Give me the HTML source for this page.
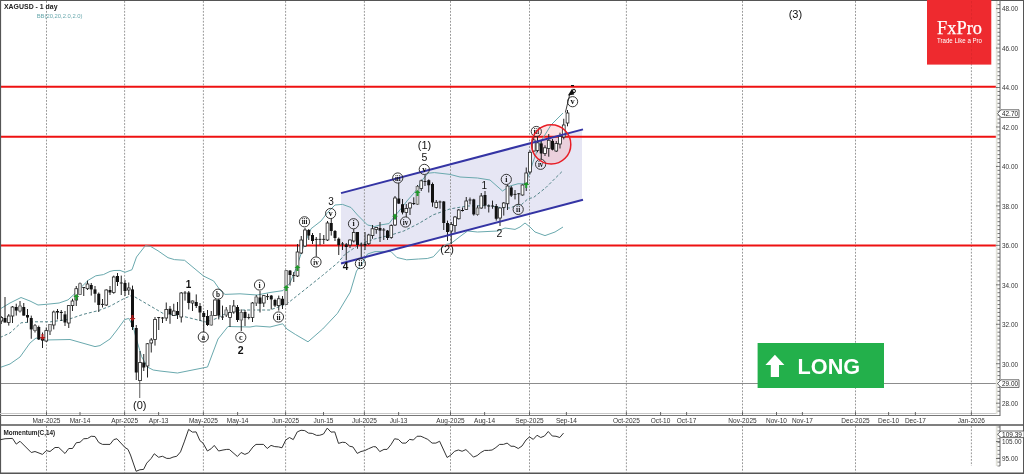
<!DOCTYPE html><html><head><meta charset="utf-8"><style>html,body{margin:0;padding:0;background:#fff;overflow:hidden}svg{display:block;will-change:transform}</style></head><body>
<svg width="1024" height="474" viewBox="0 0 1024 474">
<rect x="0" y="0" width="1024" height="474" fill="#fff"/>
<polygon points="341,193.14 582,129.66 582,200.01 341,263.49" fill="#e6e6f4"/>
<line x1="46.5" y1="1" x2="46.5" y2="413" stroke="#8c8c8c" stroke-width="0.9" stroke-dasharray="1.8,1.5"/>
<line x1="46.5" y1="426" x2="46.5" y2="472.5" stroke="#8c8c8c" stroke-width="0.9" stroke-dasharray="1.8,1.5"/>
<line x1="124.6" y1="1" x2="124.6" y2="413" stroke="#8c8c8c" stroke-width="0.9" stroke-dasharray="1.8,1.5"/>
<line x1="124.6" y1="426" x2="124.6" y2="472.5" stroke="#8c8c8c" stroke-width="0.9" stroke-dasharray="1.8,1.5"/>
<line x1="203.4" y1="1" x2="203.4" y2="413" stroke="#8c8c8c" stroke-width="0.9" stroke-dasharray="1.8,1.5"/>
<line x1="203.4" y1="426" x2="203.4" y2="472.5" stroke="#8c8c8c" stroke-width="0.9" stroke-dasharray="1.8,1.5"/>
<line x1="285.6" y1="1" x2="285.6" y2="413" stroke="#8c8c8c" stroke-width="0.9" stroke-dasharray="1.8,1.5"/>
<line x1="285.6" y1="426" x2="285.6" y2="472.5" stroke="#8c8c8c" stroke-width="0.9" stroke-dasharray="1.8,1.5"/>
<line x1="364.4" y1="1" x2="364.4" y2="413" stroke="#8c8c8c" stroke-width="0.9" stroke-dasharray="1.8,1.5"/>
<line x1="364.4" y1="426" x2="364.4" y2="472.5" stroke="#8c8c8c" stroke-width="0.9" stroke-dasharray="1.8,1.5"/>
<line x1="450.5" y1="1" x2="450.5" y2="413" stroke="#8c8c8c" stroke-width="0.9" stroke-dasharray="1.8,1.5"/>
<line x1="450.5" y1="426" x2="450.5" y2="472.5" stroke="#8c8c8c" stroke-width="0.9" stroke-dasharray="1.8,1.5"/>
<line x1="529.5" y1="1" x2="529.5" y2="413" stroke="#8c8c8c" stroke-width="0.9" stroke-dasharray="1.8,1.5"/>
<line x1="529.5" y1="426" x2="529.5" y2="472.5" stroke="#8c8c8c" stroke-width="0.9" stroke-dasharray="1.8,1.5"/>
<line x1="626.4" y1="1" x2="626.4" y2="413" stroke="#8c8c8c" stroke-width="0.9" stroke-dasharray="1.8,1.5"/>
<line x1="626.4" y1="426" x2="626.4" y2="472.5" stroke="#8c8c8c" stroke-width="0.9" stroke-dasharray="1.8,1.5"/>
<line x1="742.5" y1="1" x2="742.5" y2="413" stroke="#8c8c8c" stroke-width="0.9" stroke-dasharray="1.8,1.5"/>
<line x1="742.5" y1="426" x2="742.5" y2="472.5" stroke="#8c8c8c" stroke-width="0.9" stroke-dasharray="1.8,1.5"/>
<line x1="855.5" y1="1" x2="855.5" y2="413" stroke="#8c8c8c" stroke-width="0.9" stroke-dasharray="1.8,1.5"/>
<line x1="855.5" y1="426" x2="855.5" y2="472.5" stroke="#8c8c8c" stroke-width="0.9" stroke-dasharray="1.8,1.5"/>
<line x1="971.4" y1="1" x2="971.4" y2="413" stroke="#8c8c8c" stroke-width="0.9" stroke-dasharray="1.8,1.5"/>
<line x1="971.4" y1="426" x2="971.4" y2="466" stroke="#8c8c8c" stroke-width="0.9" stroke-dasharray="1.8,1.5"/>
<circle cx="551.2" cy="144.4" r="19.6" fill="rgba(250,160,165,0.3)"/>
<line x1="0" y1="86.8" x2="997" y2="86.8" stroke="#ee1111" stroke-width="2"/>
<line x1="0" y1="136.7" x2="997" y2="136.7" stroke="#ee1111" stroke-width="2"/>
<line x1="0" y1="245.6" x2="997" y2="245.6" stroke="#ee1111" stroke-width="2"/>
<line x1="0" y1="383.5" x2="997" y2="383.5" stroke="#8c8c8c" stroke-width="1"/>
<polyline points="0,309 10,303 21,297.5 30,301 38,305 46.5,304.3 59.1,303 68,299.9 74.3,294.2 80.6,287.8 88.2,280.3 95.8,275.8 103.4,274.6 110,271.4 114,270.5 120,270.4 125,272.3 132,269.7 136.5,257 145.3,245.7 150.4,246.3 158,250.8 168,257.7 174.4,259.6 184.6,260.3 203.5,276 213.7,281 220,290 225,294.4 240,293.8 257,295 270,292.5 283,290.6 290,283 297,266 304,245 311,228.75 321,221 327.5,212.5 335,205 342.5,204.4 351,207.5 357.5,215 367.5,225 372.5,226 374.3,226.6 380,225 389,223.6 393.5,217.7 400.8,208.9 407.8,200 414.2,192.8 418,187.8 423,179 428,173.2 434.4,172.6 450,174.4 460,177 477.5,178 490,180 502.5,191 510,186 518,183.75 525,183.75 530,172 533,162 540,143 551,125 563,113" fill="none" stroke="#6aa9ae" stroke-width="1"/>
<polyline points="0,367.5 10,364 20,357 30,343 36,338 45,340 70,339.5 95,346.6 100,345.6 110,339 117,330 124.5,319.7 128.7,318.4 133,326 135.8,337 141.6,356.6 147.4,367 153.2,370 160,371 177.5,373 205,367.5 207.5,367 218,339 228,326.5 250,327 256,326 270,327 282.7,323.8 286.9,329 295.3,334.4 308,341.8 322.7,329 337.5,313.3 350.2,292.2 356.5,271 362.8,262.7 367.5,254 375,251.6 391,251.6 396.9,257.5 406.7,259.8 418.6,259 427.25,258.5 433.3,256.8 440.7,248.7 446.6,244.3 450.9,243.6 460,236.5 467.5,231 477.5,232 497.5,231 505,228 515,229.4 520,227 525,223 530,227 535,232 545,235.6 555,232 563,227" fill="none" stroke="#6aa9ae" stroke-width="1"/>
<polyline points="0,337.5 10,333 21,322.8 33.75,321.8 50.6,321.8 68,319.5 83.2,314.4 98.4,310.6 110,306.2 123.9,298.6 132,295.3 147,304 163.2,313.5 183.1,316.3 205.9,322 215,319 225,314 240,310 270,310 286.9,303.8 301.6,292.2 322.7,275.3 337.5,263 344.8,254.5 359.5,244.3 374.3,239 392,234.7 403.8,231 418.6,223.6 433.3,214.8 450,208.9 467.5,206 487.5,205.6 500,207.5 510,208 517.5,205 521,205 528,198.75 533.5,197.5 546,187.5 556,177.5 563,170.6" fill="none" stroke="#55858a" stroke-width="1" stroke-dasharray="3,2"/>
<line x1="1.25" y1="316.0" x2="1.25" y2="324.0" stroke="#222" stroke-width="1"/>
<rect x="-0.1499999999999999" y="317.5" width="2.8" height="3.5" fill="#fff" stroke="#222" stroke-width="0.8"/>
<line x1="5.0" y1="297.0" x2="5.0" y2="322.5" stroke="#222" stroke-width="1"/>
<rect x="3.5" y="318.0" width="3" height="4.5" fill="#111"/>
<line x1="8.75" y1="314.0" x2="8.75" y2="325.6" stroke="#222" stroke-width="1"/>
<rect x="7.35" y="316.0" width="2.8" height="6.5" fill="#fff" stroke="#222" stroke-width="0.8"/>
<line x1="12.5" y1="306.0" x2="12.5" y2="323.0" stroke="#222" stroke-width="1"/>
<rect x="11.1" y="307.0" width="2.8" height="9.0" fill="#fff" stroke="#222" stroke-width="0.8"/>
<line x1="16.25" y1="303.7" x2="16.25" y2="315.6" stroke="#222" stroke-width="1"/>
<rect x="14.75" y="307.0" width="3" height="3.6000000000000227" fill="#111"/>
<line x1="20.0" y1="301.0" x2="20.0" y2="312.5" stroke="#222" stroke-width="1"/>
<rect x="18.6" y="306.0" width="2.8" height="5.0" fill="#cfcfcf" stroke="#666" stroke-width="0.8"/>
<line x1="23.75" y1="303.0" x2="23.75" y2="315.6" stroke="#222" stroke-width="1"/>
<rect x="22.25" y="307.0" width="3" height="8.600000000000023" fill="#111"/>
<line x1="27.5" y1="309.0" x2="27.5" y2="322.5" stroke="#222" stroke-width="1"/>
<rect x="26.0" y="315.0" width="3" height="2.5" fill="#111"/>
<line x1="31.25" y1="315.6" x2="31.25" y2="338.75" stroke="#222" stroke-width="1"/>
<rect x="29.75" y="318.0" width="3" height="11.399999999999977" fill="#111"/>
<line x1="35.0" y1="324.0" x2="35.0" y2="332.5" stroke="#222" stroke-width="1"/>
<rect x="33.6" y="325.6" width="2.8" height="5.0" fill="#cfcfcf" stroke="#666" stroke-width="0.8"/>
<line x1="38.75" y1="325.6" x2="38.75" y2="340.0" stroke="#222" stroke-width="1"/>
<rect x="37.25" y="327.0" width="3" height="12.399999999999977" fill="#111"/>
<line x1="42.5" y1="332.5" x2="42.5" y2="348.0" stroke="#222" stroke-width="1"/>
<rect x="41.0" y="338.75" width="3" height="1.8500000000000227" fill="#111"/>
<line x1="46.25" y1="327.5" x2="46.25" y2="341.9" stroke="#222" stroke-width="1"/>
<rect x="44.85" y="330.6" width="2.8" height="10.399999999999977" fill="#fff" stroke="#222" stroke-width="0.8"/>
<line x1="50.0" y1="324.0" x2="50.0" y2="335.0" stroke="#222" stroke-width="1"/>
<rect x="48.6" y="324.4" width="2.8" height="6.600000000000023" fill="#cfcfcf" stroke="#666" stroke-width="0.8"/>
<line x1="53.75" y1="310.6" x2="53.75" y2="329.4" stroke="#222" stroke-width="1"/>
<rect x="52.35" y="312.0" width="2.8" height="13.0" fill="#fff" stroke="#222" stroke-width="0.8"/>
<line x1="57.5" y1="309.0" x2="57.5" y2="319.4" stroke="#222" stroke-width="1"/>
<rect x="56.0" y="311.0" width="3" height="1.5" fill="#111"/>
<line x1="61.25" y1="310.0" x2="61.25" y2="321.0" stroke="#222" stroke-width="1"/>
<rect x="59.75" y="311.9" width="3" height="1.1000000000000227" fill="#111"/>
<line x1="65.0" y1="311.0" x2="65.0" y2="326.0" stroke="#222" stroke-width="1"/>
<rect x="63.5" y="314.4" width="3" height="8.100000000000023" fill="#111"/>
<line x1="68.75" y1="305.0" x2="68.75" y2="328.0" stroke="#222" stroke-width="1"/>
<rect x="67.35" y="305.6" width="2.8" height="17.399999999999977" fill="#fff" stroke="#222" stroke-width="0.8"/>
<line x1="72.5" y1="298.7" x2="72.5" y2="311.0" stroke="#222" stroke-width="1"/>
<rect x="71.1" y="301.0" width="2.8" height="4.600000000000023" fill="#fff" stroke="#222" stroke-width="0.8"/>
<line x1="76.25" y1="286.0" x2="76.25" y2="306.0" stroke="#222" stroke-width="1"/>
<rect x="74.85" y="288.7" width="2.8" height="11.300000000000011" fill="#fff" stroke="#222" stroke-width="0.8"/>
<line x1="80.0" y1="282.5" x2="80.0" y2="295.0" stroke="#222" stroke-width="1"/>
<rect x="78.6" y="283.7" width="2.8" height="10.699999999999989" fill="#cfcfcf" stroke="#666" stroke-width="0.8"/>
<line x1="83.75" y1="287.0" x2="83.75" y2="296.0" stroke="#222" stroke-width="1"/>
<line x1="82.25" y1="287.5" x2="85.25" y2="287.5" stroke="#222" stroke-width="1"/>
<line x1="87.5" y1="280.6" x2="87.5" y2="290.0" stroke="#222" stroke-width="1"/>
<rect x="86.1" y="284.0" width="2.8" height="4.699999999999989" fill="#fff" stroke="#222" stroke-width="0.8"/>
<line x1="91.25" y1="283.0" x2="91.25" y2="295.6" stroke="#222" stroke-width="1"/>
<rect x="89.75" y="285.0" width="3" height="4.399999999999977" fill="#111"/>
<line x1="95.0" y1="286.0" x2="95.0" y2="302.5" stroke="#222" stroke-width="1"/>
<rect x="93.5" y="289.4" width="3" height="4.350000000000023" fill="#111"/>
<line x1="98.75" y1="292.5" x2="98.75" y2="312.0" stroke="#222" stroke-width="1"/>
<rect x="97.25" y="293.75" width="3" height="11.25" fill="#111"/>
<line x1="102.5" y1="299.0" x2="102.5" y2="307.5" stroke="#222" stroke-width="1"/>
<line x1="101.0" y1="304.4" x2="104.0" y2="304.4" stroke="#222" stroke-width="1"/>
<line x1="106.25" y1="289.4" x2="106.25" y2="306.0" stroke="#222" stroke-width="1"/>
<rect x="104.85" y="290.0" width="2.8" height="15.0" fill="#fff" stroke="#222" stroke-width="0.8"/>
<line x1="110.0" y1="286.0" x2="110.0" y2="295.0" stroke="#222" stroke-width="1"/>
<rect x="108.5" y="290.0" width="3" height="2.5" fill="#111"/>
<line x1="113.75" y1="275.6" x2="113.75" y2="293.75" stroke="#222" stroke-width="1"/>
<rect x="112.35" y="277.0" width="2.8" height="15.5" fill="#fff" stroke="#222" stroke-width="0.8"/>
<line x1="117.5" y1="273.0" x2="117.5" y2="286.0" stroke="#222" stroke-width="1"/>
<rect x="116.0" y="276.0" width="3" height="6.0" fill="#111"/>
<line x1="121.25" y1="275.6" x2="121.25" y2="295.0" stroke="#222" stroke-width="1"/>
<line x1="119.75" y1="283.0" x2="122.75" y2="283.0" stroke="#222" stroke-width="1"/>
<line x1="125.0" y1="280.0" x2="125.0" y2="296.0" stroke="#222" stroke-width="1"/>
<rect x="123.5" y="283.0" width="3" height="8.0" fill="#111"/>
<line x1="128.75" y1="282.5" x2="128.75" y2="295.0" stroke="#222" stroke-width="1"/>
<rect x="127.35" y="288.0" width="2.8" height="2.0" fill="#fff" stroke="#222" stroke-width="0.8"/>
<line x1="132.5" y1="285.6" x2="132.5" y2="330.0" stroke="#222" stroke-width="1"/>
<rect x="131.0" y="289.4" width="3" height="37.60000000000002" fill="#111"/>
<line x1="136.25" y1="325.0" x2="136.25" y2="380.0" stroke="#222" stroke-width="1"/>
<rect x="134.75" y="328.0" width="3" height="44.5" fill="#111"/>
<line x1="140.0" y1="351.0" x2="140.0" y2="380.6" stroke="#222" stroke-width="1"/>
<rect x="138.6" y="362.5" width="2.8" height="18.100000000000023" fill="#fff" stroke="#222" stroke-width="0.8"/>
<line x1="143.75" y1="354.0" x2="143.75" y2="371.0" stroke="#222" stroke-width="1"/>
<rect x="142.25" y="362.5" width="3" height="5.0" fill="#111"/>
<line x1="147.5" y1="343.0" x2="147.5" y2="377.5" stroke="#222" stroke-width="1"/>
<rect x="146.1" y="343.75" width="2.8" height="22.25" fill="#fff" stroke="#222" stroke-width="0.8"/>
<line x1="151.25" y1="338.0" x2="151.25" y2="352.5" stroke="#222" stroke-width="1"/>
<rect x="149.85" y="340.0" width="2.8" height="3.0" fill="#fff" stroke="#222" stroke-width="0.8"/>
<line x1="155.0" y1="317.0" x2="155.0" y2="345.6" stroke="#222" stroke-width="1"/>
<rect x="153.6" y="319.4" width="2.8" height="20.0" fill="#fff" stroke="#222" stroke-width="0.8"/>
<line x1="158.75" y1="317.0" x2="158.75" y2="330.0" stroke="#222" stroke-width="1"/>
<line x1="157.25" y1="317.5" x2="160.25" y2="317.5" stroke="#222" stroke-width="1"/>
<line x1="162.5" y1="317.0" x2="162.5" y2="323.0" stroke="#222" stroke-width="1"/>
<line x1="161.0" y1="318.0" x2="164.0" y2="318.0" stroke="#222" stroke-width="1"/>
<line x1="166.25" y1="302.5" x2="166.25" y2="321.0" stroke="#222" stroke-width="1"/>
<rect x="164.85" y="309.4" width="2.8" height="8.600000000000023" fill="#fff" stroke="#222" stroke-width="0.8"/>
<line x1="170.0" y1="306.0" x2="170.0" y2="323.75" stroke="#222" stroke-width="1"/>
<rect x="168.5" y="308.75" width="3" height="5.649999999999977" fill="#111"/>
<line x1="173.75" y1="303.75" x2="173.75" y2="316.0" stroke="#222" stroke-width="1"/>
<rect x="172.35" y="311.0" width="2.8" height="4.600000000000023" fill="#fff" stroke="#222" stroke-width="0.8"/>
<line x1="177.5" y1="302.0" x2="177.5" y2="319.0" stroke="#222" stroke-width="1"/>
<rect x="176.0" y="311.0" width="3" height="4.0" fill="#111"/>
<line x1="181.25" y1="292.0" x2="181.25" y2="322.5" stroke="#222" stroke-width="1"/>
<rect x="179.85" y="293.0" width="2.8" height="24.0" fill="#fff" stroke="#222" stroke-width="0.8"/>
<line x1="185.0" y1="291.0" x2="185.0" y2="300.6" stroke="#222" stroke-width="1"/>
<line x1="183.5" y1="293.0" x2="186.5" y2="293.0" stroke="#222" stroke-width="1"/>
<line x1="188.75" y1="291.0" x2="188.75" y2="309.4" stroke="#222" stroke-width="1"/>
<rect x="187.25" y="292.5" width="3" height="10.5" fill="#111"/>
<line x1="192.5" y1="300.6" x2="192.5" y2="311.0" stroke="#222" stroke-width="1"/>
<rect x="191.1" y="301.0" width="2.8" height="2.0" fill="#fff" stroke="#222" stroke-width="0.8"/>
<line x1="196.25" y1="294.4" x2="196.25" y2="308.0" stroke="#222" stroke-width="1"/>
<rect x="194.75" y="302.0" width="3" height="4.0" fill="#111"/>
<line x1="200.0" y1="303.0" x2="200.0" y2="321.0" stroke="#222" stroke-width="1"/>
<rect x="198.5" y="306.0" width="3" height="6.5" fill="#111"/>
<line x1="203.75" y1="311.0" x2="203.75" y2="332.0" stroke="#222" stroke-width="1"/>
<rect x="202.25" y="313.0" width="3" height="4.0" fill="#111"/>
<line x1="207.5" y1="310.0" x2="207.5" y2="326.0" stroke="#222" stroke-width="1"/>
<rect x="206.0" y="316.0" width="3" height="9.0" fill="#111"/>
<line x1="211.25" y1="311.0" x2="211.25" y2="325.6" stroke="#222" stroke-width="1"/>
<rect x="209.85" y="315.6" width="2.8" height="9.399999999999977" fill="#cfcfcf" stroke="#666" stroke-width="0.8"/>
<line x1="215.0" y1="299.4" x2="215.0" y2="316.0" stroke="#222" stroke-width="1"/>
<rect x="213.6" y="300.0" width="2.8" height="15.600000000000023" fill="#fff" stroke="#222" stroke-width="0.8"/>
<line x1="218.75" y1="298.75" x2="218.75" y2="319.4" stroke="#222" stroke-width="1"/>
<rect x="217.25" y="300.0" width="3" height="15.600000000000023" fill="#111"/>
<line x1="222.5" y1="305.6" x2="222.5" y2="320.0" stroke="#222" stroke-width="1"/>
<line x1="221.0" y1="317.0" x2="224.0" y2="317.0" stroke="#222" stroke-width="1"/>
<line x1="226.25" y1="307.0" x2="226.25" y2="317.0" stroke="#222" stroke-width="1"/>
<rect x="224.85" y="310.0" width="2.8" height="5.0" fill="#cfcfcf" stroke="#666" stroke-width="0.8"/>
<line x1="230.0" y1="305.0" x2="230.0" y2="327.0" stroke="#222" stroke-width="1"/>
<rect x="228.6" y="312.5" width="2.8" height="5.0" fill="#fff" stroke="#222" stroke-width="0.8"/>
<line x1="233.75" y1="300.0" x2="233.75" y2="313.75" stroke="#222" stroke-width="1"/>
<rect x="232.35" y="306.0" width="2.8" height="6.0" fill="#fff" stroke="#222" stroke-width="0.8"/>
<line x1="237.5" y1="305.0" x2="237.5" y2="322.0" stroke="#222" stroke-width="1"/>
<rect x="236.0" y="307.0" width="3" height="13.0" fill="#111"/>
<line x1="241.25" y1="309.4" x2="241.25" y2="331.0" stroke="#222" stroke-width="1"/>
<rect x="239.85" y="312.5" width="2.8" height="7.5" fill="#cfcfcf" stroke="#666" stroke-width="0.8"/>
<line x1="245.0" y1="310.0" x2="245.0" y2="326.0" stroke="#222" stroke-width="1"/>
<rect x="243.5" y="312.0" width="3" height="6.0" fill="#111"/>
<line x1="248.75" y1="313.75" x2="248.75" y2="319.4" stroke="#222" stroke-width="1"/>
<line x1="247.25" y1="317.5" x2="250.25" y2="317.5" stroke="#222" stroke-width="1"/>
<line x1="252.5" y1="302.0" x2="252.5" y2="322.0" stroke="#222" stroke-width="1"/>
<rect x="251.1" y="303.0" width="2.8" height="14.5" fill="#fff" stroke="#222" stroke-width="0.8"/>
<line x1="256.25" y1="295.0" x2="256.25" y2="306.0" stroke="#222" stroke-width="1"/>
<rect x="254.85" y="297.0" width="2.8" height="6.0" fill="#cfcfcf" stroke="#666" stroke-width="0.8"/>
<line x1="260.0" y1="291.0" x2="260.0" y2="312.5" stroke="#222" stroke-width="1"/>
<rect x="258.5" y="297.5" width="3" height="6.25" fill="#111"/>
<line x1="263.75" y1="295.0" x2="263.75" y2="307.0" stroke="#222" stroke-width="1"/>
<rect x="262.35" y="295.6" width="2.8" height="7.399999999999977" fill="#fff" stroke="#222" stroke-width="0.8"/>
<line x1="267.5" y1="293.75" x2="267.5" y2="300.0" stroke="#222" stroke-width="1"/>
<line x1="266.0" y1="296.6" x2="269.0" y2="296.6" stroke="#222" stroke-width="1"/>
<line x1="271.25" y1="295.0" x2="271.25" y2="309.4" stroke="#222" stroke-width="1"/>
<rect x="269.75" y="295.6" width="3" height="3.7999999999999545" fill="#111"/>
<line x1="275.0" y1="298.75" x2="275.0" y2="307.0" stroke="#222" stroke-width="1"/>
<rect x="273.5" y="300.0" width="3" height="5.600000000000023" fill="#111"/>
<line x1="278.75" y1="295.6" x2="278.75" y2="310.6" stroke="#222" stroke-width="1"/>
<rect x="277.35" y="298.75" width="2.8" height="6.850000000000023" fill="#fff" stroke="#222" stroke-width="0.8"/>
<line x1="282.5" y1="296.0" x2="282.5" y2="309.0" stroke="#222" stroke-width="1"/>
<rect x="281.0" y="298.75" width="3" height="6.25" fill="#111"/>
<line x1="286.25" y1="270.0" x2="286.25" y2="305.0" stroke="#222" stroke-width="1"/>
<rect x="284.85" y="270.6" width="2.8" height="33.799999999999955" fill="#cfcfcf" stroke="#666" stroke-width="0.8"/>
<line x1="290.0" y1="270.0" x2="290.0" y2="285.6" stroke="#222" stroke-width="1"/>
<rect x="288.5" y="270.6" width="3" height="4.399999999999977" fill="#111"/>
<line x1="293.75" y1="272.0" x2="293.75" y2="282.0" stroke="#222" stroke-width="1"/>
<line x1="292.25" y1="275.4" x2="295.25" y2="275.4" stroke="#222" stroke-width="1"/>
<line x1="297.5" y1="244.0" x2="297.5" y2="277.0" stroke="#222" stroke-width="1"/>
<rect x="296.1" y="252.0" width="2.8" height="24.0" fill="#fff" stroke="#222" stroke-width="0.8"/>
<line x1="301.25" y1="236.0" x2="301.25" y2="254.0" stroke="#222" stroke-width="1"/>
<rect x="299.85" y="240.0" width="2.8" height="13.0" fill="#fff" stroke="#222" stroke-width="0.8"/>
<line x1="305.0" y1="228.0" x2="305.0" y2="247.0" stroke="#222" stroke-width="1"/>
<rect x="303.6" y="230.0" width="2.8" height="16.0" fill="#fff" stroke="#222" stroke-width="0.8"/>
<line x1="308.75" y1="229.0" x2="308.75" y2="240.0" stroke="#222" stroke-width="1"/>
<rect x="307.25" y="230.0" width="3" height="5.599999999999994" fill="#111"/>
<line x1="312.5" y1="233.0" x2="312.5" y2="244.0" stroke="#222" stroke-width="1"/>
<rect x="311.0" y="235.0" width="3" height="6.0" fill="#111"/>
<line x1="316.25" y1="237.0" x2="316.25" y2="256.6" stroke="#222" stroke-width="1"/>
<line x1="314.75" y1="239.4" x2="317.75" y2="239.4" stroke="#222" stroke-width="1"/>
<line x1="320.0" y1="233.0" x2="320.0" y2="245.0" stroke="#222" stroke-width="1"/>
<line x1="318.5" y1="239.4" x2="321.5" y2="239.4" stroke="#222" stroke-width="1"/>
<line x1="323.75" y1="235.0" x2="323.75" y2="244.0" stroke="#222" stroke-width="1"/>
<line x1="322.25" y1="239.4" x2="325.25" y2="239.4" stroke="#222" stroke-width="1"/>
<line x1="327.5" y1="221.0" x2="327.5" y2="241.0" stroke="#222" stroke-width="1"/>
<rect x="326.1" y="223.0" width="2.8" height="17.0" fill="#fff" stroke="#222" stroke-width="0.8"/>
<line x1="331.25" y1="218.5" x2="331.25" y2="235.6" stroke="#222" stroke-width="1"/>
<rect x="329.75" y="223.0" width="3" height="8.0" fill="#111"/>
<line x1="335.0" y1="230.0" x2="335.0" y2="241.0" stroke="#222" stroke-width="1"/>
<rect x="333.5" y="231.0" width="3" height="7.0" fill="#111"/>
<line x1="338.75" y1="237.5" x2="338.75" y2="255.0" stroke="#222" stroke-width="1"/>
<rect x="337.25" y="238.75" width="3" height="6.25" fill="#111"/>
<line x1="342.5" y1="242.0" x2="342.5" y2="250.0" stroke="#222" stroke-width="1"/>
<line x1="341.0" y1="244.0" x2="344.0" y2="244.0" stroke="#222" stroke-width="1"/>
<line x1="346.25" y1="243.0" x2="346.25" y2="260.4" stroke="#222" stroke-width="1"/>
<rect x="344.75" y="244.4" width="3" height="2.5999999999999943" fill="#111"/>
<line x1="350.0" y1="239.4" x2="350.0" y2="248.0" stroke="#222" stroke-width="1"/>
<rect x="348.6" y="240.0" width="2.8" height="5.0" fill="#fff" stroke="#222" stroke-width="0.8"/>
<line x1="353.75" y1="229.0" x2="353.75" y2="242.5" stroke="#222" stroke-width="1"/>
<rect x="352.35" y="232.5" width="2.8" height="8.5" fill="#fff" stroke="#222" stroke-width="0.8"/>
<line x1="357.5" y1="232.0" x2="357.5" y2="248.75" stroke="#222" stroke-width="1"/>
<rect x="356.0" y="232.0" width="3" height="13.0" fill="#111"/>
<line x1="361.25" y1="242.5" x2="361.25" y2="258.0" stroke="#222" stroke-width="1"/>
<line x1="359.75" y1="245.0" x2="362.75" y2="245.0" stroke="#222" stroke-width="1"/>
<line x1="365.0" y1="232.0" x2="365.0" y2="250.0" stroke="#222" stroke-width="1"/>
<rect x="363.5" y="243.75" width="3" height="1.8499999999999943" fill="#111"/>
<line x1="368.75" y1="233.75" x2="368.75" y2="245.0" stroke="#222" stroke-width="1"/>
<rect x="367.35" y="235.0" width="2.8" height="8.75" fill="#fff" stroke="#222" stroke-width="0.8"/>
<line x1="372.5" y1="225.0" x2="372.5" y2="238.75" stroke="#222" stroke-width="1"/>
<rect x="371.1" y="228.75" width="2.8" height="6.849999999999994" fill="#fff" stroke="#222" stroke-width="0.8"/>
<line x1="376.25" y1="227.0" x2="376.25" y2="233.75" stroke="#222" stroke-width="1"/>
<rect x="374.85" y="227.5" width="2.8" height="1.9000000000000057" fill="#fff" stroke="#222" stroke-width="0.8"/>
<line x1="380.0" y1="222.0" x2="380.0" y2="242.0" stroke="#222" stroke-width="1"/>
<rect x="378.5" y="228.0" width="3" height="2.5999999999999943" fill="#111"/>
<line x1="383.75" y1="228.0" x2="383.75" y2="240.0" stroke="#222" stroke-width="1"/>
<line x1="382.25" y1="230.0" x2="385.25" y2="230.0" stroke="#222" stroke-width="1"/>
<line x1="387.5" y1="230.0" x2="387.5" y2="240.0" stroke="#222" stroke-width="1"/>
<rect x="386.0" y="230.6" width="3" height="7.400000000000006" fill="#111"/>
<line x1="391.25" y1="224.4" x2="391.25" y2="238.75" stroke="#222" stroke-width="1"/>
<rect x="389.85" y="225.6" width="2.8" height="11.900000000000006" fill="#fff" stroke="#222" stroke-width="0.8"/>
<line x1="395.0" y1="196.0" x2="395.0" y2="226.0" stroke="#222" stroke-width="1"/>
<rect x="393.6" y="198.0" width="2.8" height="27.0" fill="#fff" stroke="#222" stroke-width="0.8"/>
<line x1="398.75" y1="183.0" x2="398.75" y2="204.0" stroke="#222" stroke-width="1"/>
<rect x="397.25" y="198.5" width="3" height="5.099999999999994" fill="#111"/>
<line x1="402.5" y1="199.0" x2="402.5" y2="214.4" stroke="#222" stroke-width="1"/>
<rect x="401.0" y="204.2" width="3" height="8.300000000000011" fill="#111"/>
<line x1="406.25" y1="204.0" x2="406.25" y2="217.0" stroke="#222" stroke-width="1"/>
<rect x="404.85" y="208.5" width="2.8" height="4.0" fill="#fff" stroke="#222" stroke-width="0.8"/>
<line x1="410.0" y1="202.3" x2="410.0" y2="215.0" stroke="#222" stroke-width="1"/>
<rect x="408.6" y="203.0" width="2.8" height="5.0" fill="#fff" stroke="#222" stroke-width="0.8"/>
<line x1="413.75" y1="197.3" x2="413.75" y2="205.0" stroke="#222" stroke-width="1"/>
<rect x="412.25" y="203.0" width="3" height="1.0" fill="#111"/>
<line x1="417.5" y1="185.0" x2="417.5" y2="205.0" stroke="#222" stroke-width="1"/>
<rect x="416.1" y="186.5" width="2.8" height="17.69999999999999" fill="#cfcfcf" stroke="#666" stroke-width="0.8"/>
<line x1="421.25" y1="179.6" x2="421.25" y2="191.0" stroke="#222" stroke-width="1"/>
<rect x="419.85" y="180.8" width="2.8" height="7.599999999999994" fill="#fff" stroke="#222" stroke-width="0.8"/>
<line x1="425.0" y1="174.7" x2="425.0" y2="186.0" stroke="#222" stroke-width="1"/>
<line x1="423.5" y1="181.5" x2="426.5" y2="181.5" stroke="#222" stroke-width="1"/>
<line x1="428.75" y1="179.4" x2="428.75" y2="192.5" stroke="#222" stroke-width="1"/>
<rect x="427.25" y="180.2" width="3" height="5.050000000000011" fill="#111"/>
<line x1="432.5" y1="182.5" x2="432.5" y2="206.8" stroke="#222" stroke-width="1"/>
<rect x="431.0" y="184.0" width="3" height="18.5" fill="#111"/>
<line x1="436.25" y1="200.0" x2="436.25" y2="208.5" stroke="#222" stroke-width="1"/>
<rect x="434.85" y="202.3" width="2.8" height="5.099999999999994" fill="#fff" stroke="#222" stroke-width="0.8"/>
<line x1="440.0" y1="200.6" x2="440.0" y2="208.75" stroke="#222" stroke-width="1"/>
<line x1="438.5" y1="202.0" x2="441.5" y2="202.0" stroke="#222" stroke-width="1"/>
<line x1="443.75" y1="201.0" x2="443.75" y2="230.0" stroke="#222" stroke-width="1"/>
<rect x="442.25" y="201.5" width="3" height="21.5" fill="#111"/>
<line x1="447.5" y1="220.6" x2="447.5" y2="241.0" stroke="#222" stroke-width="1"/>
<rect x="446.0" y="223.0" width="3" height="9.0" fill="#111"/>
<line x1="451.25" y1="222.0" x2="451.25" y2="244.0" stroke="#222" stroke-width="1"/>
<rect x="449.85" y="224.4" width="2.8" height="6.599999999999994" fill="#fff" stroke="#222" stroke-width="0.8"/>
<line x1="455.0" y1="216.0" x2="455.0" y2="232.5" stroke="#222" stroke-width="1"/>
<rect x="453.6" y="217.0" width="2.8" height="8.599999999999994" fill="#fff" stroke="#222" stroke-width="0.8"/>
<line x1="458.75" y1="209.0" x2="458.75" y2="219.5" stroke="#222" stroke-width="1"/>
<rect x="457.35" y="210.0" width="2.8" height="8.75" fill="#fff" stroke="#222" stroke-width="0.8"/>
<line x1="462.5" y1="207.5" x2="462.5" y2="211.5" stroke="#222" stroke-width="1"/>
<rect x="461.0" y="210.0" width="3" height="1.0" fill="#111"/>
<line x1="466.25" y1="197.0" x2="466.25" y2="210.0" stroke="#222" stroke-width="1"/>
<rect x="464.85" y="201.0" width="2.8" height="8.400000000000006" fill="#fff" stroke="#222" stroke-width="0.8"/>
<line x1="470.0" y1="197.5" x2="470.0" y2="204.4" stroke="#222" stroke-width="1"/>
<line x1="468.5" y1="200.0" x2="471.5" y2="200.0" stroke="#222" stroke-width="1"/>
<line x1="473.75" y1="198.75" x2="473.75" y2="215.6" stroke="#222" stroke-width="1"/>
<rect x="472.25" y="199.4" width="3" height="15.0" fill="#111"/>
<line x1="477.5" y1="205.6" x2="477.5" y2="215.6" stroke="#222" stroke-width="1"/>
<rect x="476.1" y="208.0" width="2.8" height="6.400000000000006" fill="#cfcfcf" stroke="#666" stroke-width="0.8"/>
<line x1="481.25" y1="193.0" x2="481.25" y2="208.75" stroke="#222" stroke-width="1"/>
<rect x="479.85" y="196.0" width="2.8" height="12.0" fill="#fff" stroke="#222" stroke-width="0.8"/>
<line x1="485.0" y1="191.0" x2="485.0" y2="208.75" stroke="#222" stroke-width="1"/>
<rect x="483.5" y="195.0" width="3" height="10.599999999999994" fill="#111"/>
<line x1="488.75" y1="204.4" x2="488.75" y2="212.5" stroke="#222" stroke-width="1"/>
<line x1="487.25" y1="206.0" x2="490.25" y2="206.0" stroke="#222" stroke-width="1"/>
<line x1="492.5" y1="200.6" x2="492.5" y2="208.75" stroke="#222" stroke-width="1"/>
<line x1="491.0" y1="206.0" x2="494.0" y2="206.0" stroke="#222" stroke-width="1"/>
<line x1="496.25" y1="204.0" x2="496.25" y2="220.6" stroke="#222" stroke-width="1"/>
<rect x="494.75" y="206.0" width="3" height="12.75" fill="#111"/>
<line x1="500.0" y1="207.5" x2="500.0" y2="226.0" stroke="#222" stroke-width="1"/>
<rect x="498.6" y="208.0" width="2.8" height="10.0" fill="#fff" stroke="#222" stroke-width="0.8"/>
<line x1="503.75" y1="202.0" x2="503.75" y2="215.6" stroke="#222" stroke-width="1"/>
<rect x="502.35" y="203.0" width="2.8" height="4.5" fill="#fff" stroke="#222" stroke-width="0.8"/>
<line x1="507.5" y1="184.7" x2="507.5" y2="210.0" stroke="#222" stroke-width="1"/>
<rect x="506.1" y="186.0" width="2.8" height="17.75" fill="#fff" stroke="#222" stroke-width="0.8"/>
<line x1="511.25" y1="186.0" x2="511.25" y2="197.0" stroke="#222" stroke-width="1"/>
<rect x="509.75" y="187.5" width="3" height="8.099999999999994" fill="#111"/>
<line x1="515.0" y1="190.0" x2="515.0" y2="199.4" stroke="#222" stroke-width="1"/>
<line x1="513.5" y1="194.4" x2="516.5" y2="194.4" stroke="#222" stroke-width="1"/>
<line x1="518.75" y1="193.0" x2="518.75" y2="204.0" stroke="#222" stroke-width="1"/>
<line x1="517.25" y1="193.75" x2="520.25" y2="193.75" stroke="#222" stroke-width="1"/>
<line x1="522.5" y1="184.4" x2="522.5" y2="195.6" stroke="#222" stroke-width="1"/>
<rect x="521.1" y="185.0" width="2.8" height="10.0" fill="#fff" stroke="#222" stroke-width="0.8"/>
<line x1="526.25" y1="167.5" x2="526.25" y2="191.0" stroke="#222" stroke-width="1"/>
<rect x="524.85" y="173.0" width="2.8" height="10.75" fill="#fff" stroke="#222" stroke-width="0.8"/>
<line x1="530.0" y1="150.4" x2="530.0" y2="174.4" stroke="#222" stroke-width="1"/>
<rect x="528.6" y="152.3" width="2.8" height="19.69999999999999" fill="#fff" stroke="#222" stroke-width="0.8"/>
<line x1="533.75" y1="135.0" x2="533.75" y2="152.0" stroke="#222" stroke-width="1"/>
<rect x="532.35" y="140.0" width="2.8" height="11.0" fill="#fff" stroke="#222" stroke-width="0.8"/>
<line x1="537.5" y1="137.0" x2="537.5" y2="152.3" stroke="#222" stroke-width="1"/>
<rect x="536.1" y="142.8" width="2.8" height="7.599999999999994" fill="#fff" stroke="#222" stroke-width="0.8"/>
<line x1="541.25" y1="141.0" x2="541.25" y2="159.0" stroke="#222" stroke-width="1"/>
<rect x="539.75" y="143.4" width="3" height="10.099999999999994" fill="#111"/>
<line x1="545.0" y1="145.3" x2="545.0" y2="156.0" stroke="#222" stroke-width="1"/>
<rect x="543.6" y="147.8" width="2.8" height="5.699999999999989" fill="#fff" stroke="#222" stroke-width="0.8"/>
<line x1="548.75" y1="134.0" x2="548.75" y2="156.7" stroke="#222" stroke-width="1"/>
<rect x="547.35" y="140.25" width="2.8" height="8.25" fill="#fff" stroke="#222" stroke-width="0.8"/>
<line x1="552.5" y1="139.0" x2="552.5" y2="150.4" stroke="#222" stroke-width="1"/>
<rect x="551.0" y="140.9" width="3" height="8.799999999999983" fill="#111"/>
<line x1="556.25" y1="141.0" x2="556.25" y2="152.0" stroke="#222" stroke-width="1"/>
<rect x="554.85" y="143.4" width="2.8" height="7.599999999999994" fill="#fff" stroke="#222" stroke-width="0.8"/>
<line x1="560.0" y1="132.7" x2="560.0" y2="148.5" stroke="#222" stroke-width="1"/>
<rect x="558.6" y="136.5" width="2.8" height="7.5" fill="#fff" stroke="#222" stroke-width="0.8"/>
<line x1="563.75" y1="118.75" x2="563.75" y2="139.4" stroke="#222" stroke-width="1"/>
<rect x="562.35" y="125.0" width="2.8" height="12.0" fill="#fff" stroke="#222" stroke-width="0.8"/>
<line x1="567.5" y1="110.0" x2="567.5" y2="126.3" stroke="#222" stroke-width="1"/>
<rect x="566.1" y="113.0" width="2.8" height="10.0" fill="#fff" stroke="#222" stroke-width="0.8"/>
<line x1="341" y1="193.14" x2="583" y2="129.40" stroke="#3434a4" stroke-width="2"/>
<line x1="341" y1="263.49" x2="583" y2="199.75" stroke="#3434a4" stroke-width="2"/>
<polygon points="76.25,294 79.25,297 77.25,297 77.25,300 75.25,300 75.25,297 73.25,297" fill="#1e9a2a"/>
<polygon points="286.25,285 289.25,288 287.25,288 287.25,291 285.25,291 285.25,288 283.25,288" fill="#1e9a2a"/>
<polygon points="297.5,265 300.5,268 298.5,268 298.5,271 296.5,271 296.5,268 294.5,268" fill="#1e9a2a"/>
<polygon points="395.0,213.5 398.0,216.5 396.0,216.5 396.0,219.5 394.0,219.5 394.0,216.5 392.0,216.5" fill="#1e9a2a"/>
<polygon points="417.5,190 420.5,193 418.5,193 418.5,196 416.5,196 416.5,193 414.5,193" fill="#1e9a2a"/>
<polygon points="526.25,182 529.25,185 527.25,185 527.25,188 525.25,188 525.25,185 523.25,185" fill="#1e9a2a"/>
<polygon points="42.5,340 45.5,337 43.5,337 43.5,334 41.5,334 41.5,337 39.5,337" fill="#b01818"/>
<polygon points="132.5,321 135.5,318 133.5,318 133.5,315 131.5,315 131.5,318 129.5,318" fill="#b01818"/>
<circle cx="203.3" cy="337" r="5.1" fill="none" stroke="#222" stroke-width="0.9"/>
<text x="201.50" y="339.60" font-family="Liberation Serif" font-weight="bold" font-size="8.5" textLength="3.6" lengthAdjust="spacingAndGlyphs" fill="#111">a</text>
<circle cx="218" cy="294.2" r="5.1" fill="none" stroke="#222" stroke-width="0.9"/>
<text x="216.00" y="296.80" font-family="Liberation Serif" font-weight="bold" font-size="8.5" textLength="4.0" lengthAdjust="spacingAndGlyphs" fill="#111">b</text>
<circle cx="240.8" cy="337.3" r="5.1" fill="none" stroke="#222" stroke-width="0.9"/>
<text x="239.00" y="339.90" font-family="Liberation Serif" font-weight="bold" font-size="8.5" textLength="3.6" lengthAdjust="spacingAndGlyphs" fill="#111">c</text>
<circle cx="259.5" cy="285" r="5.1" fill="none" stroke="#222" stroke-width="0.9"/>
<text x="258.40" y="287.60" font-family="Liberation Serif" font-weight="bold" font-size="8.5" textLength="2.2" lengthAdjust="spacingAndGlyphs" fill="#111">i</text>
<circle cx="278.5" cy="317" r="5.1" fill="none" stroke="#222" stroke-width="0.9"/>
<text x="276.40" y="319.60" font-family="Liberation Serif" font-weight="bold" font-size="8.5" textLength="4.2" lengthAdjust="spacingAndGlyphs" fill="#111">ii</text>
<circle cx="304.5" cy="221.8" r="5.1" fill="none" stroke="#222" stroke-width="0.9"/>
<text x="301.70" y="224.40" font-family="Liberation Serif" font-weight="bold" font-size="8.5" textLength="5.6" lengthAdjust="spacingAndGlyphs" fill="#111">iii</text>
<circle cx="316" cy="262" r="5.1" fill="none" stroke="#222" stroke-width="0.9"/>
<text x="313.30" y="264.60" font-family="Liberation Serif" font-weight="bold" font-size="8.5" textLength="5.4" lengthAdjust="spacingAndGlyphs" fill="#111">iv</text>
<circle cx="330.6" cy="213.5" r="5.1" fill="none" stroke="#222" stroke-width="0.9"/>
<text x="328.50" y="216.10" font-family="Liberation Serif" font-weight="bold" font-size="8.5" textLength="4.2" lengthAdjust="spacingAndGlyphs" fill="#111">v</text>
<circle cx="353.5" cy="223.75" r="5.1" fill="none" stroke="#222" stroke-width="0.9"/>
<text x="352.40" y="226.35" font-family="Liberation Serif" font-weight="bold" font-size="8.5" textLength="2.2" lengthAdjust="spacingAndGlyphs" fill="#111">i</text>
<circle cx="360.4" cy="263.6" r="5.1" fill="none" stroke="#222" stroke-width="0.9"/>
<text x="358.30" y="266.20" font-family="Liberation Serif" font-weight="bold" font-size="8.5" textLength="4.2" lengthAdjust="spacingAndGlyphs" fill="#111">ii</text>
<circle cx="397.75" cy="178" r="5.1" fill="none" stroke="#222" stroke-width="0.9"/>
<text x="394.95" y="180.60" font-family="Liberation Serif" font-weight="bold" font-size="8.5" textLength="5.6" lengthAdjust="spacingAndGlyphs" fill="#111">iii</text>
<circle cx="405.5" cy="222" r="5.1" fill="none" stroke="#222" stroke-width="0.9"/>
<text x="402.80" y="224.60" font-family="Liberation Serif" font-weight="bold" font-size="8.5" textLength="5.4" lengthAdjust="spacingAndGlyphs" fill="#111">iv</text>
<circle cx="424.3" cy="169.4" r="5.1" fill="none" stroke="#222" stroke-width="0.9"/>
<text x="422.20" y="172.00" font-family="Liberation Serif" font-weight="bold" font-size="8.5" textLength="4.2" lengthAdjust="spacingAndGlyphs" fill="#111">v</text>
<circle cx="506.3" cy="179.4" r="5.1" fill="none" stroke="#222" stroke-width="0.9"/>
<text x="505.20" y="182.00" font-family="Liberation Serif" font-weight="bold" font-size="8.5" textLength="2.2" lengthAdjust="spacingAndGlyphs" fill="#111">i</text>
<circle cx="518.2" cy="209.4" r="5.1" fill="none" stroke="#222" stroke-width="0.9"/>
<text x="516.10" y="212.00" font-family="Liberation Serif" font-weight="bold" font-size="8.5" textLength="4.2" lengthAdjust="spacingAndGlyphs" fill="#111">ii</text>
<circle cx="536.3" cy="131.5" r="5.1" fill="none" stroke="#222" stroke-width="0.9"/>
<text x="533.50" y="134.10" font-family="Liberation Serif" font-weight="bold" font-size="8.5" textLength="5.6" lengthAdjust="spacingAndGlyphs" fill="#111">iii</text>
<circle cx="540.6" cy="164.3" r="5.1" fill="none" stroke="#222" stroke-width="0.9"/>
<text x="537.90" y="166.90" font-family="Liberation Serif" font-weight="bold" font-size="8.5" textLength="5.4" lengthAdjust="spacingAndGlyphs" fill="#111">iv</text>
<circle cx="572.6" cy="101.7" r="5.1" fill="none" stroke="#222" stroke-width="0.9"/>
<text x="570.50" y="104.30" font-family="Liberation Serif" font-weight="bold" font-size="8.5" textLength="4.2" lengthAdjust="spacingAndGlyphs" fill="#111">v</text>
<line x1="569.8" y1="94" x2="565.4" y2="112.5" stroke="#222" stroke-width="0.9"/>
<line x1="139.75" y1="380.6" x2="139.75" y2="398" stroke="#333" stroke-width="0.8"/>
<circle cx="551.2" cy="144.4" r="19.6" fill="none" stroke="#e81c24" stroke-width="1.5"/>
<text x="188.5" y="287.60" font-family="Liberation Sans" font-weight="bold" font-size="10" text-anchor="middle" fill="#111">1</text>
<text x="240.6" y="353.78" font-family="Liberation Sans" font-weight="bold" font-size="10.5" text-anchor="middle" fill="#111">2</text>
<text x="331" y="204.90" font-family="Liberation Sans" font-weight="normal" font-size="10" text-anchor="middle" fill="#111">3</text>
<text x="345.6" y="270.20" font-family="Liberation Sans" font-weight="bold" font-size="10" text-anchor="middle" fill="#111">4</text>
<text x="424.5" y="161.28" font-family="Liberation Sans" font-weight="normal" font-size="10.5" text-anchor="middle" fill="#111">5</text>
<text x="424.5" y="148.56" font-family="Liberation Sans" font-weight="normal" font-size="11" text-anchor="middle" fill="#111">(1)</text>
<text x="447.1" y="252.56" font-family="Liberation Sans" font-weight="normal" font-size="11" text-anchor="middle" fill="#111">(2)</text>
<text x="484.4" y="189.20" font-family="Liberation Sans" font-weight="normal" font-size="10" text-anchor="middle" fill="#111">1</text>
<text x="499.4" y="236.78" font-family="Liberation Sans" font-weight="normal" font-size="10.5" text-anchor="middle" fill="#111">2</text>
<text x="139.75" y="408.96" font-family="Liberation Sans" font-weight="normal" font-size="11" text-anchor="middle" fill="#111">(0)</text>
<text x="795.4" y="17.96" font-family="Liberation Sans" font-weight="normal" font-size="11" text-anchor="middle" fill="#111">(3)</text>
<polygon points="567.8,95.6 572.2,88.6 574.2,94.6" fill="#111"/>
<ellipse cx="574" cy="91" rx="1.4" ry="1.8" fill="none" stroke="#111" stroke-width="1"/>
<line x1="571" y1="85.6" x2="574" y2="85.6" stroke="#111" stroke-width="1.2"/>
<line x1="0" y1="0.5" x2="1024" y2="0.5" stroke="#555" stroke-width="1.2"/>
<line x1="0.5" y1="0" x2="0.5" y2="474" stroke="#555" stroke-width="1.2"/>
<line x1="1023.5" y1="0" x2="1023.5" y2="474" stroke="#555" stroke-width="1"/>
<line x1="0" y1="413.5" x2="997" y2="413.5" stroke="#c8c8c8" stroke-width="1"/>
<line x1="0" y1="415.5" x2="1000" y2="415.5" stroke="#777" stroke-width="1.2"/>
<line x1="0" y1="425" x2="1024" y2="425" stroke="#555" stroke-width="1.5"/>
<line x1="0" y1="473.3" x2="1024" y2="473.3" stroke="#555" stroke-width="1.4"/>
<rect x="995.8" y="1" width="1.8" height="413" fill="#e2e2da"/>
<line x1="1000" y1="0" x2="1000" y2="416" stroke="#666" stroke-width="1"/>
<rect x="995.8" y="426" width="1.8" height="40" fill="#e2e2da"/>
<line x1="1000" y1="425" x2="1000" y2="466" stroke="#666" stroke-width="1"/>
<line x1="997.5" y1="4.65" x2="1000" y2="4.65" stroke="#555" stroke-width="0.8"/>
<line x1="996" y1="8.60" x2="1000" y2="8.60" stroke="#555" stroke-width="0.8"/>
<line x1="997.5" y1="12.55" x2="1000" y2="12.55" stroke="#555" stroke-width="0.8"/>
<line x1="997.5" y1="16.49" x2="1000" y2="16.49" stroke="#555" stroke-width="0.8"/>
<line x1="997.5" y1="20.44" x2="1000" y2="20.44" stroke="#555" stroke-width="0.8"/>
<line x1="997.5" y1="24.38" x2="1000" y2="24.38" stroke="#555" stroke-width="0.8"/>
<line x1="997.5" y1="28.33" x2="1000" y2="28.33" stroke="#555" stroke-width="0.8"/>
<line x1="997.5" y1="32.28" x2="1000" y2="32.28" stroke="#555" stroke-width="0.8"/>
<line x1="997.5" y1="36.22" x2="1000" y2="36.22" stroke="#555" stroke-width="0.8"/>
<line x1="997.5" y1="40.17" x2="1000" y2="40.17" stroke="#555" stroke-width="0.8"/>
<line x1="997.5" y1="44.11" x2="1000" y2="44.11" stroke="#555" stroke-width="0.8"/>
<line x1="996" y1="48.06" x2="1000" y2="48.06" stroke="#555" stroke-width="0.8"/>
<line x1="997.5" y1="52.01" x2="1000" y2="52.01" stroke="#555" stroke-width="0.8"/>
<line x1="997.5" y1="55.95" x2="1000" y2="55.95" stroke="#555" stroke-width="0.8"/>
<line x1="997.5" y1="59.90" x2="1000" y2="59.90" stroke="#555" stroke-width="0.8"/>
<line x1="997.5" y1="63.84" x2="1000" y2="63.84" stroke="#555" stroke-width="0.8"/>
<line x1="997.5" y1="67.79" x2="1000" y2="67.79" stroke="#555" stroke-width="0.8"/>
<line x1="997.5" y1="71.74" x2="1000" y2="71.74" stroke="#555" stroke-width="0.8"/>
<line x1="997.5" y1="75.68" x2="1000" y2="75.68" stroke="#555" stroke-width="0.8"/>
<line x1="997.5" y1="79.63" x2="1000" y2="79.63" stroke="#555" stroke-width="0.8"/>
<line x1="997.5" y1="83.57" x2="1000" y2="83.57" stroke="#555" stroke-width="0.8"/>
<line x1="996" y1="87.52" x2="1000" y2="87.52" stroke="#555" stroke-width="0.8"/>
<line x1="997.5" y1="91.47" x2="1000" y2="91.47" stroke="#555" stroke-width="0.8"/>
<line x1="997.5" y1="95.41" x2="1000" y2="95.41" stroke="#555" stroke-width="0.8"/>
<line x1="997.5" y1="99.36" x2="1000" y2="99.36" stroke="#555" stroke-width="0.8"/>
<line x1="997.5" y1="103.30" x2="1000" y2="103.30" stroke="#555" stroke-width="0.8"/>
<line x1="997.5" y1="107.25" x2="1000" y2="107.25" stroke="#555" stroke-width="0.8"/>
<line x1="997.5" y1="111.20" x2="1000" y2="111.20" stroke="#555" stroke-width="0.8"/>
<line x1="997.5" y1="115.14" x2="1000" y2="115.14" stroke="#555" stroke-width="0.8"/>
<line x1="997.5" y1="119.09" x2="1000" y2="119.09" stroke="#555" stroke-width="0.8"/>
<line x1="997.5" y1="123.03" x2="1000" y2="123.03" stroke="#555" stroke-width="0.8"/>
<line x1="996" y1="126.98" x2="1000" y2="126.98" stroke="#555" stroke-width="0.8"/>
<line x1="997.5" y1="130.93" x2="1000" y2="130.93" stroke="#555" stroke-width="0.8"/>
<line x1="997.5" y1="134.87" x2="1000" y2="134.87" stroke="#555" stroke-width="0.8"/>
<line x1="997.5" y1="138.82" x2="1000" y2="138.82" stroke="#555" stroke-width="0.8"/>
<line x1="997.5" y1="142.76" x2="1000" y2="142.76" stroke="#555" stroke-width="0.8"/>
<line x1="997.5" y1="146.71" x2="1000" y2="146.71" stroke="#555" stroke-width="0.8"/>
<line x1="997.5" y1="150.66" x2="1000" y2="150.66" stroke="#555" stroke-width="0.8"/>
<line x1="997.5" y1="154.60" x2="1000" y2="154.60" stroke="#555" stroke-width="0.8"/>
<line x1="997.5" y1="158.55" x2="1000" y2="158.55" stroke="#555" stroke-width="0.8"/>
<line x1="997.5" y1="162.49" x2="1000" y2="162.49" stroke="#555" stroke-width="0.8"/>
<line x1="996" y1="166.44" x2="1000" y2="166.44" stroke="#555" stroke-width="0.8"/>
<line x1="997.5" y1="170.39" x2="1000" y2="170.39" stroke="#555" stroke-width="0.8"/>
<line x1="997.5" y1="174.33" x2="1000" y2="174.33" stroke="#555" stroke-width="0.8"/>
<line x1="997.5" y1="178.28" x2="1000" y2="178.28" stroke="#555" stroke-width="0.8"/>
<line x1="997.5" y1="182.22" x2="1000" y2="182.22" stroke="#555" stroke-width="0.8"/>
<line x1="997.5" y1="186.17" x2="1000" y2="186.17" stroke="#555" stroke-width="0.8"/>
<line x1="997.5" y1="190.12" x2="1000" y2="190.12" stroke="#555" stroke-width="0.8"/>
<line x1="997.5" y1="194.06" x2="1000" y2="194.06" stroke="#555" stroke-width="0.8"/>
<line x1="997.5" y1="198.01" x2="1000" y2="198.01" stroke="#555" stroke-width="0.8"/>
<line x1="997.5" y1="201.95" x2="1000" y2="201.95" stroke="#555" stroke-width="0.8"/>
<line x1="996" y1="205.90" x2="1000" y2="205.90" stroke="#555" stroke-width="0.8"/>
<line x1="997.5" y1="209.85" x2="1000" y2="209.85" stroke="#555" stroke-width="0.8"/>
<line x1="997.5" y1="213.79" x2="1000" y2="213.79" stroke="#555" stroke-width="0.8"/>
<line x1="997.5" y1="217.74" x2="1000" y2="217.74" stroke="#555" stroke-width="0.8"/>
<line x1="997.5" y1="221.68" x2="1000" y2="221.68" stroke="#555" stroke-width="0.8"/>
<line x1="997.5" y1="225.63" x2="1000" y2="225.63" stroke="#555" stroke-width="0.8"/>
<line x1="997.5" y1="229.58" x2="1000" y2="229.58" stroke="#555" stroke-width="0.8"/>
<line x1="997.5" y1="233.52" x2="1000" y2="233.52" stroke="#555" stroke-width="0.8"/>
<line x1="997.5" y1="237.47" x2="1000" y2="237.47" stroke="#555" stroke-width="0.8"/>
<line x1="997.5" y1="241.41" x2="1000" y2="241.41" stroke="#555" stroke-width="0.8"/>
<line x1="996" y1="245.36" x2="1000" y2="245.36" stroke="#555" stroke-width="0.8"/>
<line x1="997.5" y1="249.31" x2="1000" y2="249.31" stroke="#555" stroke-width="0.8"/>
<line x1="997.5" y1="253.25" x2="1000" y2="253.25" stroke="#555" stroke-width="0.8"/>
<line x1="997.5" y1="257.20" x2="1000" y2="257.20" stroke="#555" stroke-width="0.8"/>
<line x1="997.5" y1="261.14" x2="1000" y2="261.14" stroke="#555" stroke-width="0.8"/>
<line x1="997.5" y1="265.09" x2="1000" y2="265.09" stroke="#555" stroke-width="0.8"/>
<line x1="997.5" y1="269.04" x2="1000" y2="269.04" stroke="#555" stroke-width="0.8"/>
<line x1="997.5" y1="272.98" x2="1000" y2="272.98" stroke="#555" stroke-width="0.8"/>
<line x1="997.5" y1="276.93" x2="1000" y2="276.93" stroke="#555" stroke-width="0.8"/>
<line x1="997.5" y1="280.87" x2="1000" y2="280.87" stroke="#555" stroke-width="0.8"/>
<line x1="996" y1="284.82" x2="1000" y2="284.82" stroke="#555" stroke-width="0.8"/>
<line x1="997.5" y1="288.77" x2="1000" y2="288.77" stroke="#555" stroke-width="0.8"/>
<line x1="997.5" y1="292.71" x2="1000" y2="292.71" stroke="#555" stroke-width="0.8"/>
<line x1="997.5" y1="296.66" x2="1000" y2="296.66" stroke="#555" stroke-width="0.8"/>
<line x1="997.5" y1="300.60" x2="1000" y2="300.60" stroke="#555" stroke-width="0.8"/>
<line x1="997.5" y1="304.55" x2="1000" y2="304.55" stroke="#555" stroke-width="0.8"/>
<line x1="997.5" y1="308.50" x2="1000" y2="308.50" stroke="#555" stroke-width="0.8"/>
<line x1="997.5" y1="312.44" x2="1000" y2="312.44" stroke="#555" stroke-width="0.8"/>
<line x1="997.5" y1="316.39" x2="1000" y2="316.39" stroke="#555" stroke-width="0.8"/>
<line x1="997.5" y1="320.33" x2="1000" y2="320.33" stroke="#555" stroke-width="0.8"/>
<line x1="996" y1="324.28" x2="1000" y2="324.28" stroke="#555" stroke-width="0.8"/>
<line x1="997.5" y1="328.23" x2="1000" y2="328.23" stroke="#555" stroke-width="0.8"/>
<line x1="997.5" y1="332.17" x2="1000" y2="332.17" stroke="#555" stroke-width="0.8"/>
<line x1="997.5" y1="336.12" x2="1000" y2="336.12" stroke="#555" stroke-width="0.8"/>
<line x1="997.5" y1="340.06" x2="1000" y2="340.06" stroke="#555" stroke-width="0.8"/>
<line x1="997.5" y1="344.01" x2="1000" y2="344.01" stroke="#555" stroke-width="0.8"/>
<line x1="997.5" y1="347.96" x2="1000" y2="347.96" stroke="#555" stroke-width="0.8"/>
<line x1="997.5" y1="351.90" x2="1000" y2="351.90" stroke="#555" stroke-width="0.8"/>
<line x1="997.5" y1="355.85" x2="1000" y2="355.85" stroke="#555" stroke-width="0.8"/>
<line x1="997.5" y1="359.79" x2="1000" y2="359.79" stroke="#555" stroke-width="0.8"/>
<line x1="996" y1="363.74" x2="1000" y2="363.74" stroke="#555" stroke-width="0.8"/>
<line x1="997.5" y1="367.69" x2="1000" y2="367.69" stroke="#555" stroke-width="0.8"/>
<line x1="997.5" y1="371.63" x2="1000" y2="371.63" stroke="#555" stroke-width="0.8"/>
<line x1="997.5" y1="375.58" x2="1000" y2="375.58" stroke="#555" stroke-width="0.8"/>
<line x1="997.5" y1="379.52" x2="1000" y2="379.52" stroke="#555" stroke-width="0.8"/>
<line x1="997.5" y1="383.47" x2="1000" y2="383.47" stroke="#555" stroke-width="0.8"/>
<line x1="997.5" y1="387.42" x2="1000" y2="387.42" stroke="#555" stroke-width="0.8"/>
<line x1="997.5" y1="391.36" x2="1000" y2="391.36" stroke="#555" stroke-width="0.8"/>
<line x1="997.5" y1="395.31" x2="1000" y2="395.31" stroke="#555" stroke-width="0.8"/>
<line x1="997.5" y1="399.25" x2="1000" y2="399.25" stroke="#555" stroke-width="0.8"/>
<line x1="996" y1="403.20" x2="1000" y2="403.20" stroke="#555" stroke-width="0.8"/>
<line x1="997.5" y1="407.15" x2="1000" y2="407.15" stroke="#555" stroke-width="0.8"/>
<line x1="997.5" y1="411.09" x2="1000" y2="411.09" stroke="#555" stroke-width="0.8"/>
<text x="1002" y="11.40" font-family="Liberation Sans" font-size="7" textLength="16" lengthAdjust="spacingAndGlyphs" fill="#333">48.00</text>
<text x="1002" y="50.86" font-family="Liberation Sans" font-size="7" textLength="16" lengthAdjust="spacingAndGlyphs" fill="#333">46.00</text>
<text x="1002" y="90.32" font-family="Liberation Sans" font-size="7" textLength="16" lengthAdjust="spacingAndGlyphs" fill="#333">44.00</text>
<text x="1002" y="129.78" font-family="Liberation Sans" font-size="7" textLength="16" lengthAdjust="spacingAndGlyphs" fill="#333">42.00</text>
<text x="1002" y="169.24" font-family="Liberation Sans" font-size="7" textLength="16" lengthAdjust="spacingAndGlyphs" fill="#333">40.00</text>
<text x="1002" y="208.70" font-family="Liberation Sans" font-size="7" textLength="16" lengthAdjust="spacingAndGlyphs" fill="#333">38.00</text>
<text x="1002" y="248.16" font-family="Liberation Sans" font-size="7" textLength="16" lengthAdjust="spacingAndGlyphs" fill="#333">36.00</text>
<text x="1002" y="287.62" font-family="Liberation Sans" font-size="7" textLength="16" lengthAdjust="spacingAndGlyphs" fill="#333">34.00</text>
<text x="1002" y="327.08" font-family="Liberation Sans" font-size="7" textLength="16" lengthAdjust="spacingAndGlyphs" fill="#333">32.00</text>
<text x="1002" y="366.54" font-family="Liberation Sans" font-size="7" textLength="16" lengthAdjust="spacingAndGlyphs" fill="#333">30.00</text>
<text x="1002" y="406.00" font-family="Liberation Sans" font-size="7" textLength="16" lengthAdjust="spacingAndGlyphs" fill="#333">28.00</text>
<polygon points="997.5,113.6 1001,109.8 1019,109.8 1019,117.39999999999999 1001,117.39999999999999" fill="#fff" stroke="#444" stroke-width="0.8"/><text x="1002" y="116.1" font-family="Liberation Sans" font-size="7" textLength="16" lengthAdjust="spacingAndGlyphs" fill="#222">42.70</text>
<polygon points="997.5,383.6 1001,379.8 1019,379.8 1019,387.40000000000003 1001,387.40000000000003" fill="#fff" stroke="#444" stroke-width="0.8"/><text x="1002" y="386.1" font-family="Liberation Sans" font-size="7" textLength="16" lengthAdjust="spacingAndGlyphs" fill="#222">29.00</text>
<line x1="46.5" y1="412" x2="46.5" y2="415" stroke="#444" stroke-width="0.8"/>
<text x="46.5" y="423" font-family="Liberation Sans" font-size="7.3" text-anchor="middle" textLength="27.93" lengthAdjust="spacingAndGlyphs" fill="#333">Mar-2025</text>
<line x1="80" y1="412" x2="80" y2="415" stroke="#444" stroke-width="0.8"/>
<text x="80" y="423" font-family="Liberation Sans" font-size="7.3" text-anchor="middle" textLength="20.67" lengthAdjust="spacingAndGlyphs" fill="#333">Mar-14</text>
<line x1="124.6" y1="412" x2="124.6" y2="415" stroke="#444" stroke-width="0.8"/>
<text x="124.6" y="423" font-family="Liberation Sans" font-size="7.3" text-anchor="middle" textLength="26.85" lengthAdjust="spacingAndGlyphs" fill="#333">Apr-2025</text>
<line x1="158.6" y1="412" x2="158.6" y2="415" stroke="#444" stroke-width="0.8"/>
<text x="158.6" y="423" font-family="Liberation Sans" font-size="7.3" text-anchor="middle" textLength="19.59" lengthAdjust="spacingAndGlyphs" fill="#333">Apr-13</text>
<line x1="203.4" y1="412" x2="203.4" y2="415" stroke="#444" stroke-width="0.8"/>
<text x="203.4" y="423" font-family="Liberation Sans" font-size="7.3" text-anchor="middle" textLength="29.02" lengthAdjust="spacingAndGlyphs" fill="#333">May-2025</text>
<line x1="237.6" y1="412" x2="237.6" y2="415" stroke="#444" stroke-width="0.8"/>
<text x="237.6" y="423" font-family="Liberation Sans" font-size="7.3" text-anchor="middle" textLength="21.76" lengthAdjust="spacingAndGlyphs" fill="#333">May-14</text>
<line x1="285.6" y1="412" x2="285.6" y2="415" stroke="#444" stroke-width="0.8"/>
<text x="285.6" y="423" font-family="Liberation Sans" font-size="7.3" text-anchor="middle" textLength="27.21" lengthAdjust="spacingAndGlyphs" fill="#333">Jun-2025</text>
<line x1="323.5" y1="412" x2="323.5" y2="415" stroke="#444" stroke-width="0.8"/>
<text x="323.5" y="423" font-family="Liberation Sans" font-size="7.3" text-anchor="middle" textLength="19.95" lengthAdjust="spacingAndGlyphs" fill="#333">Jun-15</text>
<line x1="364.4" y1="412" x2="364.4" y2="415" stroke="#444" stroke-width="0.8"/>
<text x="364.4" y="423" font-family="Liberation Sans" font-size="7.3" text-anchor="middle" textLength="25.03" lengthAdjust="spacingAndGlyphs" fill="#333">Jul-2025</text>
<line x1="398.6" y1="412" x2="398.6" y2="415" stroke="#444" stroke-width="0.8"/>
<text x="398.6" y="423" font-family="Liberation Sans" font-size="7.3" text-anchor="middle" textLength="17.77" lengthAdjust="spacingAndGlyphs" fill="#333">Jul-13</text>
<line x1="450.5" y1="412" x2="450.5" y2="415" stroke="#444" stroke-width="0.8"/>
<text x="450.5" y="423" font-family="Liberation Sans" font-size="7.3" text-anchor="middle" textLength="28.30" lengthAdjust="spacingAndGlyphs" fill="#333">Aug-2025</text>
<line x1="484.6" y1="412" x2="484.6" y2="415" stroke="#444" stroke-width="0.8"/>
<text x="484.6" y="423" font-family="Liberation Sans" font-size="7.3" text-anchor="middle" textLength="21.04" lengthAdjust="spacingAndGlyphs" fill="#333">Aug-14</text>
<line x1="529.5" y1="412" x2="529.5" y2="415" stroke="#444" stroke-width="0.8"/>
<text x="529.5" y="423" font-family="Liberation Sans" font-size="7.3" text-anchor="middle" textLength="28.30" lengthAdjust="spacingAndGlyphs" fill="#333">Sep-2025</text>
<line x1="566.4" y1="412" x2="566.4" y2="415" stroke="#444" stroke-width="0.8"/>
<text x="566.4" y="423" font-family="Liberation Sans" font-size="7.3" text-anchor="middle" textLength="21.04" lengthAdjust="spacingAndGlyphs" fill="#333">Sep-14</text>
<line x1="626.4" y1="412" x2="626.4" y2="415" stroke="#444" stroke-width="0.8"/>
<text x="626.4" y="423" font-family="Liberation Sans" font-size="7.3" text-anchor="middle" textLength="26.84" lengthAdjust="spacingAndGlyphs" fill="#333">Oct-2025</text>
<line x1="660.6" y1="412" x2="660.6" y2="415" stroke="#444" stroke-width="0.8"/>
<text x="660.6" y="423" font-family="Liberation Sans" font-size="7.3" text-anchor="middle" textLength="19.58" lengthAdjust="spacingAndGlyphs" fill="#333">Oct-10</text>
<line x1="686.6" y1="412" x2="686.6" y2="415" stroke="#444" stroke-width="0.8"/>
<text x="686.6" y="423" font-family="Liberation Sans" font-size="7.3" text-anchor="middle" textLength="19.58" lengthAdjust="spacingAndGlyphs" fill="#333">Oct-17</text>
<line x1="742.5" y1="412" x2="742.5" y2="415" stroke="#444" stroke-width="0.8"/>
<text x="742.5" y="423" font-family="Liberation Sans" font-size="7.3" text-anchor="middle" textLength="28.30" lengthAdjust="spacingAndGlyphs" fill="#333">Nov-2025</text>
<line x1="776.5" y1="412" x2="776.5" y2="415" stroke="#444" stroke-width="0.8"/>
<text x="776.5" y="423" font-family="Liberation Sans" font-size="7.3" text-anchor="middle" textLength="21.04" lengthAdjust="spacingAndGlyphs" fill="#333">Nov-10</text>
<line x1="802.4" y1="412" x2="802.4" y2="415" stroke="#444" stroke-width="0.8"/>
<text x="802.4" y="423" font-family="Liberation Sans" font-size="7.3" text-anchor="middle" textLength="21.04" lengthAdjust="spacingAndGlyphs" fill="#333">Nov-17</text>
<line x1="855.5" y1="412" x2="855.5" y2="415" stroke="#444" stroke-width="0.8"/>
<text x="855.5" y="423" font-family="Liberation Sans" font-size="7.3" text-anchor="middle" textLength="28.30" lengthAdjust="spacingAndGlyphs" fill="#333">Dec-2025</text>
<line x1="888.6" y1="412" x2="888.6" y2="415" stroke="#444" stroke-width="0.8"/>
<text x="888.6" y="423" font-family="Liberation Sans" font-size="7.3" text-anchor="middle" textLength="21.04" lengthAdjust="spacingAndGlyphs" fill="#333">Dec-10</text>
<line x1="915.4" y1="412" x2="915.4" y2="415" stroke="#444" stroke-width="0.8"/>
<text x="915.4" y="423" font-family="Liberation Sans" font-size="7.3" text-anchor="middle" textLength="21.04" lengthAdjust="spacingAndGlyphs" fill="#333">Dec-17</text>
<line x1="971.4" y1="412" x2="971.4" y2="415" stroke="#444" stroke-width="0.8"/>
<text x="971.4" y="423" font-family="Liberation Sans" font-size="7.3" text-anchor="middle" textLength="27.21" lengthAdjust="spacingAndGlyphs" fill="#333">Jan-2026</text>
<polyline points="0,439.75 5,438.75 12.5,438.4 16.25,444.1 20,441.25 31.25,452.5 35,451.5 42.5,454.4 46.25,450.6 50,451.5 55,447.5 58.75,447.5 65,453.5 68.75,448.5 72.5,448.5 76.25,442.75 80,442.25 83.75,438.75 87.5,438.5 91.25,436.25 95,436.5 98.75,442.5 102.5,444.4 110,444.4 113.75,439.6 116.9,438.75 125,447.5 128,449.4 130.5,455 136.1,471.25 139.9,469.75 143.6,469.4 146.75,463.1 151.1,458.5 154.25,453.75 158.6,457.25 162.4,456.25 166.75,458.4 169.9,458.4 173,457.1 176.75,456.25 180.5,451.9 184.25,441.9 188.6,429.4 192.4,432.1 196.1,431.9 199.9,440.6 203,443.1 207.4,451 211.1,448.75 214.25,445.4 218.6,451 223,450 226.75,449.4 229.25,449.4 237.4,456.5 241.1,452.5 244.9,454.4 248.6,452.75 253,446.9 256,444.4 263.5,444.4 267.25,448.5 271,445.4 274.75,446.6 278.5,446.9 282,447.75 285.75,440 289.5,437.5 293.25,439.6 297.25,431.9 301,430.25 304.75,430.6 308.5,433.1 312.25,433.4 316.6,435.4 319.75,435.25 323.5,434 327.25,428.1 331,432.1 334.75,431.9 338.5,443.4 342.25,442.25 345.4,442.5 349.75,446.25 352.9,446.9 357.25,453.4 361,451.5 364.75,450.6 368.5,448.75 373.5,446.6 376,446.9 379.75,451.6 384,449.4 387.1,449.4 390.9,444.75 394.6,438.75 398.4,439.4 402.1,443.1 405.9,443.1 409.6,439.4 413.4,440 417.1,436.25 420.9,436.25 424.6,437.9 427.75,439.4 432.1,443.1 435.9,443.1 439.6,441.25 447.1,457.5 450.9,455 454.6,451.25 458.4,450 462.1,451.25 465.9,449.6 469.6,453.1 473.4,457.1 477.1,455.6 480.9,452.5 484.6,450.4 488.4,450.4 492.1,450 495.9,447.5 499.6,444.4 503.4,444.4 507.1,443.1 511,446.25 514.1,446.25 518.25,448.5 522,446 526,440 529.5,436.9 533.25,439.4 537,435.25 540.75,437.5 544.5,436 548.25,431.5 552.25,436 556,436.25 559.75,437.5 563.5,433.1" fill="none" stroke="#333" stroke-width="1"/>
<text x="3.5" y="435.2" font-family="Liberation Sans" font-weight="bold" font-size="7.3" textLength="51.6" lengthAdjust="spacingAndGlyphs" fill="#222">Momentum(C,14)</text>
<line x1="996" y1="441.5" x2="1000" y2="441.5" stroke="#555" stroke-width="0.8"/>
<text x="1002" y="444.0" font-family="Liberation Sans" font-size="7" textLength="19.5" lengthAdjust="spacingAndGlyphs" fill="#333">105.00</text>
<line x1="996" y1="458.5" x2="1000" y2="458.5" stroke="#555" stroke-width="0.8"/>
<text x="1002" y="461.0" font-family="Liberation Sans" font-size="7" textLength="16" lengthAdjust="spacingAndGlyphs" fill="#333">95.00</text>
<line x1="997.5" y1="427.00" x2="1000" y2="427.00" stroke="#555" stroke-width="0.7"/>
<line x1="997.5" y1="430.90" x2="1000" y2="430.90" stroke="#555" stroke-width="0.7"/>
<line x1="997.5" y1="434.80" x2="1000" y2="434.80" stroke="#555" stroke-width="0.7"/>
<line x1="997.5" y1="438.70" x2="1000" y2="438.70" stroke="#555" stroke-width="0.7"/>
<line x1="997.5" y1="442.60" x2="1000" y2="442.60" stroke="#555" stroke-width="0.7"/>
<line x1="997.5" y1="446.50" x2="1000" y2="446.50" stroke="#555" stroke-width="0.7"/>
<line x1="997.5" y1="450.40" x2="1000" y2="450.40" stroke="#555" stroke-width="0.7"/>
<line x1="997.5" y1="454.30" x2="1000" y2="454.30" stroke="#555" stroke-width="0.7"/>
<line x1="997.5" y1="458.20" x2="1000" y2="458.20" stroke="#555" stroke-width="0.7"/>
<line x1="997.5" y1="462.10" x2="1000" y2="462.10" stroke="#555" stroke-width="0.7"/>
<line x1="997.5" y1="466.00" x2="1000" y2="466.00" stroke="#555" stroke-width="0.7"/>
<polygon points="997.5,434.3 1001,431 1024,431 1024,437.6 1001,437.6" fill="#fff" stroke="#444" stroke-width="0.8"/>
<text x="1002" y="436.8" font-family="Liberation Sans" font-size="7" textLength="20" lengthAdjust="spacingAndGlyphs" fill="#222">109.39</text>
<text x="4" y="9" font-family="Liberation Sans" font-weight="bold" font-size="7.4" textLength="53.5" lengthAdjust="spacingAndGlyphs" fill="#222">XAGUSD - 1 day</text>
<text x="36.7" y="18" font-family="Liberation Sans" font-size="5.8" textLength="45.8" lengthAdjust="spacingAndGlyphs" fill="#6aa9ae">BB(20,20,2.0,2.0)</text>
<rect x="927" y="0" width="64.3" height="64.6" fill="#ee2a2f"/>
<line x1="971.4" y1="1" x2="971.4" y2="64" stroke="#b01c20" stroke-width="0.7" stroke-dasharray="2.5,1.5" opacity="0.35"/>
<text x="937" y="34.3" font-family="Liberation Serif" font-size="19" textLength="45" lengthAdjust="spacingAndGlyphs" fill="#fff" stroke="#fff" stroke-width="0.25">FxPro</text>
<text x="937" y="42.7" font-family="Liberation Sans" font-size="6.6" textLength="45" lengthAdjust="spacingAndGlyphs" fill="#fff">Trade Like a Pro</text>
<rect x="757.6" y="343" width="126.4" height="45" fill="#23b04b"/>
<polygon points="774.9,354.8 784.4,365 779,365 779,377 770.8,377 770.8,365 765.4,365" fill="#fff"/>
<text x="797.6" y="373.6" font-family="Liberation Sans" font-weight="bold" font-size="21.6" textLength="62.6" lengthAdjust="spacingAndGlyphs" fill="#fff">LONG</text>
</svg>
</body></html>
